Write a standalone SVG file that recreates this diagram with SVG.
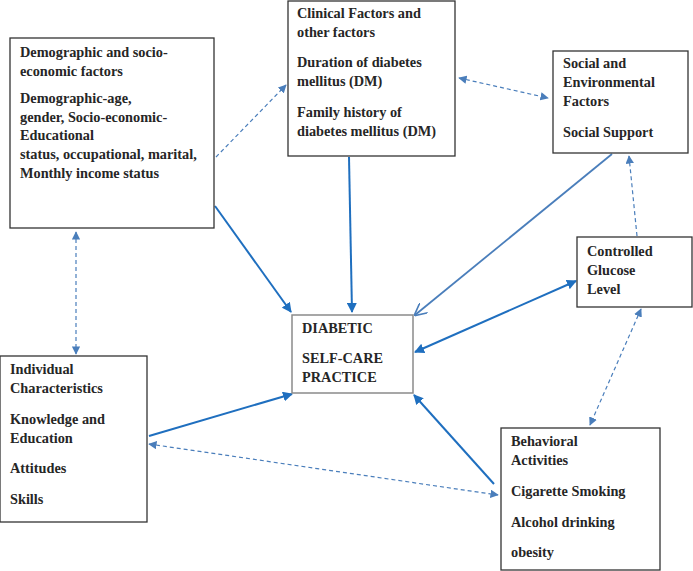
<svg xmlns="http://www.w3.org/2000/svg" width="693" height="571" viewBox="0 0 693 571">
<defs>
<style>
.box{fill:#fff;stroke:#333;stroke-width:1.3}
.cbox{fill:#fff;stroke:#8a8a8a;stroke-width:1.5}
text{font-family:"Liberation Serif","Times New Roman",serif;font-weight:bold;font-size:14.3px;fill:#262626}
.solid{stroke:#1f6fbf;stroke-width:2;fill:none}
.solid2{stroke:#4a7ebb;stroke-width:1.8;fill:none}
.dash{stroke:#4a7ebb;stroke-width:1.2;fill:none;stroke-dasharray:4 3}
</style>
<marker id="ah" viewBox="0 0 10 10" refX="9" refY="5" markerWidth="5" markerHeight="5" orient="auto-start-reverse" markerUnits="strokeWidth">
<path d="M0,0 L10,5 L0,10 z" fill="#1f6fbf"/>
</marker>
<marker id="ahd" viewBox="0 0 10 10" refX="9" refY="5" markerWidth="7" markerHeight="7" orient="auto-start-reverse" markerUnits="strokeWidth">
<path d="M0,0 L10,5 L0,10 z" fill="#4a7ebb"/>
</marker>
<marker id="ahopen" viewBox="0 0 10 10" refX="9" refY="5" markerWidth="7" markerHeight="7" orient="auto" markerUnits="strokeWidth">
<path d="M0,0 L10,5 L0,10" fill="none" stroke="#4a7ebb" stroke-width="1.3"/>
</marker>
</defs>
<rect width="693" height="571" fill="#fff"/>

<g id="connectors">
<line class="solid" x1="215" y1="206" x2="291" y2="312" marker-end="url(#ah)"/>
<line class="solid" x1="349" y1="157" x2="352" y2="312" marker-end="url(#ah)"/>
<line class="solid2" x1="612" y1="154" x2="415" y2="315" marker-end="url(#ahopen)"/>
<line class="solid" x1="576" y1="281" x2="415" y2="352" marker-start="url(#ah)" marker-end="url(#ah)"/>
<line class="solid" x1="494" y1="484" x2="414" y2="395" marker-end="url(#ah)"/>
<line class="solid" x1="149" y1="436" x2="292" y2="394" marker-end="url(#ah)"/>
<line class="dash" x1="216" y1="157" x2="286" y2="85" marker-end="url(#ahd)"/>
<line class="dash" x1="459" y1="78" x2="548" y2="98" marker-start="url(#ahd)" marker-end="url(#ahd)"/>
<line class="dash" x1="637" y1="236" x2="629" y2="156" marker-end="url(#ahd)"/>
<line class="dash" x1="641" y1="309" x2="590" y2="425" marker-start="url(#ahd)" marker-end="url(#ahd)"/>
<line class="dash" x1="149" y1="444" x2="498" y2="495" marker-start="url(#ahd)" marker-end="url(#ahd)"/>
<line class="dash" x1="76" y1="232" x2="76" y2="354" marker-start="url(#ahd)" marker-end="url(#ahd)"/>
</g>

<g id="demographic">
<rect class="box" x="10" y="38" width="204" height="190"/>
<text x="20" y="57">Demographic and socio-</text>
<text x="20" y="76">economic factors</text>
<text x="20" y="103">Demographic-age,</text>
<text x="20" y="122">gender, Socio-economic-</text>
<text x="20" y="140">Educational</text>
<text x="20" y="159">status, occupational, marital,</text>
<text x="20" y="178">Monthly income status</text>
</g>

<g id="clinical">
<rect class="box" x="288" y="1" width="167" height="155"/>
<text x="297" y="18">Clinical Factors and</text>
<text x="297" y="37">other factors</text>
<text x="297" y="67">Duration of diabetes</text>
<text x="297" y="86">mellitus (DM)</text>
<text x="297" y="117">Family history of</text>
<text x="297" y="136">diabetes mellitus (DM)</text>
</g>

<g id="social">
<rect class="box" x="553" y="51" width="135" height="102"/>
<text x="563" y="68">Social and</text>
<text x="563" y="87">Environmental</text>
<text x="563" y="106">Factors</text>
<text x="563" y="137">Social Support</text>
</g>

<g id="controlled">
<rect class="box" x="577" y="237" width="115" height="70"/>
<text x="587" y="256">Controlled</text>
<text x="587" y="275">Glucose</text>
<text x="587" y="294">Level</text>
</g>

<g id="selfcare">
<rect class="cbox" x="292" y="315" width="121" height="78"/>
<text x="302" y="333">DIABETIC</text>
<text x="302" y="363">SELF-CARE</text>
<text x="302" y="382">PRACTICE</text>
</g>

<g id="individual">
<rect class="box" x="0" y="356" width="147" height="166"/>
<text x="10" y="374">Individual</text>
<text x="10" y="393">Characteristics</text>
<text x="10" y="424">Knowledge and</text>
<text x="10" y="443">Education</text>
<text x="10" y="473">Attitudes</text>
<text x="10" y="504">Skills</text>
</g>

<g id="behavioral">
<rect class="box" x="501" y="428" width="159" height="142"/>
<text x="511" y="446">Behavioral</text>
<text x="511" y="465">Activities</text>
<text x="511" y="496">Cigarette Smoking</text>
<text x="511" y="527">Alcohol drinking</text>
<text x="511" y="557">obesity</text>
</g>
</svg>
